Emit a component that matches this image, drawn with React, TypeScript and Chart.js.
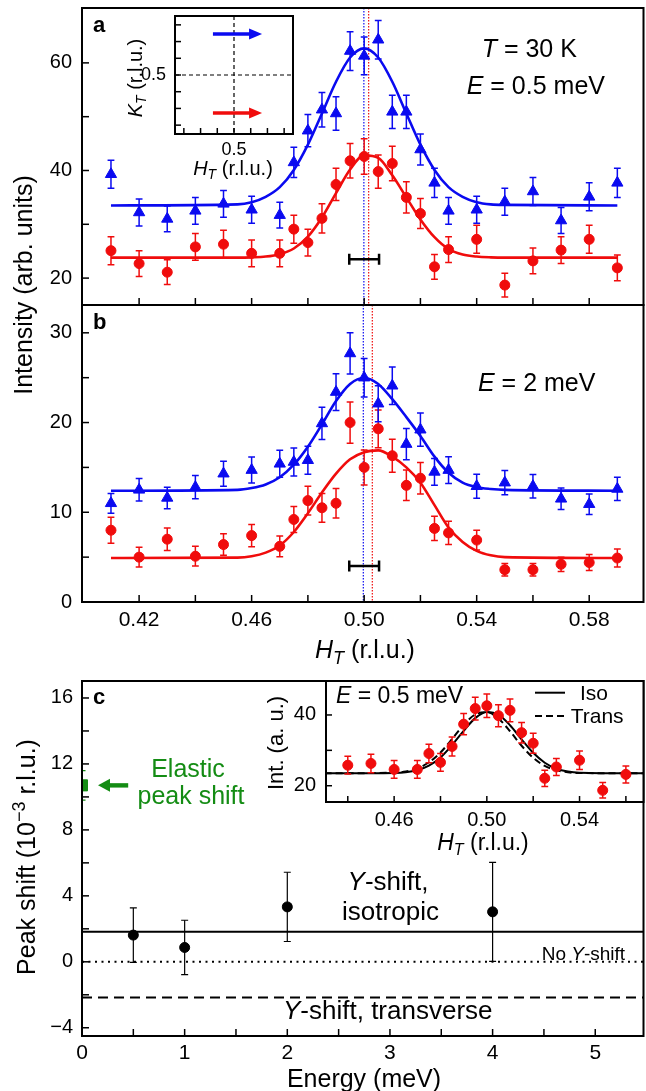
import React, { useEffect, useRef } from 'react';
import { Chart, registerables } from 'chart.js';

Chart.register(...registerables);

const W = 646;
const H = 1091;
const FONT = '"Liberation Sans", Arial, Helvetica, sans-serif';
const BLUE = 'rgb(10,10,240)';
const RED = 'rgb(240,12,12)';
const GREEN = 'rgb(20,140,20)';

// ---------- Panels a & b : H_T scan ----------
const hT = [0.41, 0.42, 0.43, 0.44, 0.45, 0.46, 0.47, 0.475, 0.48, 0.485, 0.49, 0.495, 0.5, 0.505, 0.51, 0.515, 0.52, 0.525, 0.53, 0.54, 0.55, 0.56, 0.57, 0.58, 0.59];
const blueA = [39.3, 32.2, 31.0, 32.5, 33.8, 32.7, 31.7, 41.5, 47.4, 51.3, 50.6, 62.2, 61.3, 64.3, 50.9, 50.9, 43.9, 37.7, 32.5, 32.7, 34.2, 36.1, 30.7, 35.1, 37.7];
const blueAErr = [2.6, 2.5, 2.4, 2.5, 2.5, 2.5, 2.4, 2.8, 3.0, 3.2, 3.1, 3.6, 3.5, 3.6, 3.1, 3.1, 2.9, 2.7, 2.5, 2.5, 2.5, 2.6, 2.4, 2.6, 2.7];
const redA = [25.1, 22.7, 21.1, 25.8, 26.3, 24.6, 24.6, 29.1, 26.6, 31.1, 37.4, 41.8, 42.6, 39.8, 41.3, 35.0, 32.0, 22.1, 25.3, 27.2, 18.7, 23.2, 25.2, 27.2, 21.9];
const redAErr = [2.6, 2.4, 2.3, 2.5, 2.6, 2.5, 2.5, 2.6, 2.5, 2.7, 3.0, 3.2, 3.3, 3.1, 3.2, 2.9, 2.8, 2.3, 2.4, 2.6, 2.2, 2.4, 2.5, 2.6, 2.4];
const blueB = [11.0, 12.5, 11.6, 12.8, 14.3, 14.7, 15.4, 15.6, 15.8, 19.9, 23.4, 27.7, 25.0, 22.1, 24.1, 17.6, 19.2, 14.5, 14.7, 12.9, 13.3, 12.9, 11.5, 10.9, 12.6];
const blueBErr = [1.1, 1.25, 1.2, 1.3, 1.4, 1.45, 1.5, 1.55, 1.55, 1.8, 2.05, 2.3, 2.15, 2.0, 2.1, 1.75, 1.85, 1.5, 1.5, 1.35, 1.35, 1.3, 1.2, 1.15, 1.3];
const redB = [8.0, 5.0, 7.0, 5.1, 6.4, 7.4, 6.2, 9.2, 11.3, 10.5, 11.0, 20.0, 15.0, 19.3, 16.3, 13.0, 13.8, 8.2, 7.7, 6.9, 3.6, 3.6, 4.2, 4.4, 4.9];
const redBErr = [1.45, 1.1, 1.25, 1.1, 1.2, 1.25, 1.15, 1.45, 1.6, 1.6, 1.65, 2.3, 1.95, 2.1, 1.85, 1.7, 1.75, 1.35, 1.3, 1.1, 0.7, 0.7, 0.8, 0.9, 1.0];

// fitted curves
const fitH = [0.41, 0.455, 0.46, 0.465, 0.47, 0.475, 0.48, 0.485, 0.49, 0.495, 0.5, 0.505, 0.51, 0.515, 0.52, 0.525, 0.53, 0.535, 0.54, 0.545, 0.55, 0.59];
const blueAFit = [33.5, 33.7, 34.1, 35.1, 36.9, 40.1, 44.8, 50.6, 56.5, 61.0, 62.7, 61.0, 56.5, 50.6, 44.8, 40.1, 36.9, 35.1, 34.1, 33.7, 33.6, 33.5];
const redAFit = [23.8, 23.8, 23.85, 24.0, 24.45, 25.5, 27.7, 31.25, 35.8, 40.2, 42.8, 42.35, 39.1, 35.0, 30.9, 27.6, 25.4, 24.4, 24.0, 23.85, 23.8, 23.8];
const blueBFit = [12.4, 12.5, 12.7, 13.1, 13.9, 15.3, 17.3, 19.8, 22.4, 24.3, 25.0, 24.3, 22.6, 20.6, 18.5, 16.2, 14.4, 13.3, 12.8, 12.6, 12.5, 12.4];
const redBFit = [4.9, 4.95, 5.1, 5.5, 6.3, 7.8, 9.9, 12.2, 14.3, 15.9, 16.7, 16.9, 16.2, 15.0, 13.3, 10.8, 8.3, 6.7, 5.7, 5.2, 5.0, 4.9];

// peak centres (dotted lines) and resolution bar
const centersA = [0.4999, 0.5016];
const centersB = [0.4997, 0.5029];
const resolutionH = [0.4947, 0.5053];
const resolutionYA = 23.5;
const resolutionYB = 4.0;

// inset of panel a (scan geometry)
const arrowH = [0.4874, 0.5168];
const arrowKBlue = 0.5245;
const arrowKRed = 0.4772;

// ---------- Panel c ----------
const energies = [0.5, 1, 2, 4];
const peakShift = [1.62, 0.87, 3.33, 3.03];
const peakShiftErr = [1.65, 1.65, 2.1, 3.0];
const elasticE = [0];
const elasticShift = [10.7];
const elasticErr = [0.9];
const elasticArrowE = [0.156, 0.45];
const isoShift = 1.82;
const noShift = 0;
const transShift = -2.16;
const lineE = [0, 5.5];

// inset of panel c
const insetH = hT.slice(3, 22);
const insetI = redA.slice(3, 22);
const insetErr = redAErr.slice(3, 22);
const insetFitH = [0.43, 0.46, 0.465, 0.47, 0.475, 0.48, 0.485, 0.49, 0.495, 0.5, 0.505, 0.51, 0.515, 0.52, 0.525, 0.53, 0.535, 0.54, 0.57];
const isoFit = [23.5, 23.6, 23.8, 24.4, 25.7, 28.0, 31.5, 35.5, 39.1, 40.85, 40.1, 37.1, 33.1, 29.3, 26.5, 24.8, 24.0, 23.7, 23.5];
const transFit = [23.5, 23.7, 24.0, 24.9, 26.6, 29.4, 33.2, 37.2, 40.15, 40.8, 39.0, 35.4, 31.3, 27.9, 25.6, 24.4, 23.8, 23.6, 23.5];

// ---------- helpers ----------
type Part = { t: string; i?: boolean; b?: boolean; sub?: boolean; sup?: boolean };
const fontOf = (p: Part, size: number) =>
  `${p.i ? 'italic ' : ''}${p.b ? 'bold ' : ''}${p.sub || p.sup ? Math.round(size * 0.7) : size}px ${FONT}`;

function richText(
  ctx: CanvasRenderingContext2D,
  parts: Part[],
  x: number,
  y: number,
  size: number,
  opts: { align?: 'left' | 'center'; color?: string; rotate?: boolean } = {}
) {
  ctx.save();
  ctx.fillStyle = opts.color || '#000';
  ctx.textBaseline = 'alphabetic';
  ctx.textAlign = 'left';
  let w = 0;
  for (const p of parts) {
    ctx.font = fontOf(p, size);
    w += ctx.measureText(p.t).width;
  }
  ctx.translate(x, y);
  if (opts.rotate) ctx.rotate(-Math.PI / 2);
  let cx = opts.align === 'center' ? -w / 2 : 0;
  for (const p of parts) {
    ctx.font = fontOf(p, size);
    const dy = p.sub ? size * 0.22 : p.sup ? -size * 0.4 : 0;
    ctx.fillText(p.t, cx, dy);
    cx += ctx.measureText(p.t).width;
  }
  ctx.restore();
}

const HT: Part[] = [{ t: 'H', i: true }, { t: 'T', i: true, sub: true }, { t: ' (r.l.u.)' }];
const KT: Part[] = [{ t: 'K', i: true }, { t: 'T', i: true, sub: true }, { t: ' (r.l.u.)' }];

const pts = (xs: number[], ys: number[]) => xs.map((x, i) => ({ x, y: ys[i] }));

function pointsDs(xs: number[], ys: number[], errs: number[], color: string, style: string, r: number, errW = 1.5, capW = 3.4) {
  return {
    data: pts(xs, ys),
    showLine: false,
    pointStyle: style,
    pointRadius: r,
    backgroundColor: color,
    borderColor: color,
    borderWidth: 1,
    errs,
    errColor: color,
    errW,
    capW,
    clip: 0,
  };
}

function curveDs(xs: number[], ys: number[], color: string, width: number, dash: number[] = []) {
  return {
    data: pts(xs, ys),
    showLine: true,
    pointRadius: 0,
    borderColor: color,
    backgroundColor: color,
    borderWidth: width,
    borderDash: dash,
    cubicInterpolationMode: 'monotone',
    fill: false,
    clip: 0,
  };
}

type Area = { l: number; t: number; r: number; b: number };
type AxisSpec = { min: number; max: number; step: number; label: (v: number) => string; font: number; pad: number };
type Spec = {
  area: Area;
  x: AxisSpec;
  y: AxisSpec;
  datasets: any[];
  tickLen: number;
  whiteBg?: boolean;
  under?: (ctx: CanvasRenderingContext2D, chart: any) => void;
  over?: (ctx: CanvasRenderingContext2D, chart: any) => void;
};

function line(ctx: CanvasRenderingContext2D, x1: number, y1: number, x2: number, y2: number) {
  ctx.beginPath();
  ctx.moveTo(x1, y1);
  ctx.lineTo(x2, y2);
  ctx.stroke();
}

function buildConfig(spec: Spec): any {
  const { area } = spec;
  const axis = (a: AxisSpec, isX: boolean) => ({
    type: 'linear',
    position: isX ? 'bottom' : 'left',
    min: a.min,
    max: a.max,
    grid: { display: false, drawTicks: false },
    border: { display: false },
    ticks: {
      stepSize: a.step,
      includeBounds: false,
      autoSkip: false,
      maxRotation: 0,
      minRotation: 0,
      padding: a.pad,
      color: '#000',
      font: { family: FONT, size: a.font },
      callback: (v: number) => a.label(v),
    },
    afterFit: (s: any) => {
      if (isX) s.height = H - area.b;
      else s.width = area.l;
      s.paddingTop = 0;
      s.paddingBottom = 0;
      s.paddingLeft = 0;
      s.paddingRight = 0;
    },
  });
  const plugin = {
    id: 'panelDeco',
    beforeDraw(chart: any) {
      if (!spec.whiteBg) return;
      const { ctx, chartArea: a } = chart;
      ctx.save();
      ctx.fillStyle = '#fff';
      ctx.fillRect(a.left, a.top, a.right - a.left, a.bottom - a.top);
      ctx.restore();
    },
    beforeDatasetsDraw(chart: any) {
      if (spec.under) {
        const { ctx, chartArea: a } = chart;
        ctx.save();
        ctx.beginPath();
        ctx.rect(a.left, a.top, a.right - a.left, a.bottom - a.top);
        ctx.clip();
        spec.under(ctx, chart);
        ctx.restore();
      }
    },
    beforeDatasetDraw(chart: any, args: any) {
      const ds = chart.data.datasets[args.index];
      if (!ds.errs) return;
      const { ctx, chartArea: a } = chart;
      const xs = chart.scales.x;
      const ys = chart.scales.y;
      ctx.save();
      ctx.beginPath();
      ctx.rect(a.left, a.top, a.right - a.left, a.bottom - a.top);
      ctx.clip();
      ctx.strokeStyle = ds.errColor;
      ctx.lineWidth = ds.errW;
      ds.data.forEach((p: any, i: number) => {
        const e = ds.errs[i];
        const px = xs.getPixelForValue(p.x);
        const y1 = ys.getPixelForValue(p.y + e);
        const y2 = ys.getPixelForValue(p.y - e);
        line(ctx, px, y1, px, y2);
        line(ctx, px - ds.capW, y1, px + ds.capW, y1);
        line(ctx, px - ds.capW, y2, px + ds.capW, y2);
      });
      ctx.restore();
    },
    afterDraw(chart: any) {
      const { ctx, chartArea: a } = chart;
      const xs = chart.scales.x;
      const ys = chart.scales.y;
      ctx.save();
      ctx.strokeStyle = '#000';
      ctx.lineWidth = 1.5;
      xs.ticks.forEach((t: any) => {
        const px = xs.getPixelForValue(t.value);
        if (px < a.left + 2 || px > a.right - 2) return;
        line(ctx, px, a.bottom, px, a.bottom - spec.tickLen);
      });
      ys.ticks.forEach((t: any) => {
        const py = ys.getPixelForValue(t.value);
        if (py < a.top + 2 || py > a.bottom - 2) return;
        line(ctx, a.left, py, a.left + spec.tickLen, py);
      });
      ctx.lineWidth = 2;
      ctx.strokeRect(a.left, a.top, a.right - a.left, a.bottom - a.top);
      ctx.restore();
      if (spec.over) {
        ctx.save();
        spec.over(ctx, chart);
        ctx.restore();
      }
    },
  };
  return {
    type: 'scatter',
    data: { datasets: spec.datasets },
    options: {
      animation: false,
      responsive: false,
      maintainAspectRatio: false,
      events: [],
      layout: { autoPadding: false, padding: { top: area.t, right: W - area.r, left: 0, bottom: 0 } },
      plugins: { legend: { display: false }, tooltip: { enabled: false }, title: { display: false } },
      scales: { x: axis(spec.x, true), y: axis(spec.y, false) },
    },
    plugins: [plugin],
  };
}

function drawCentersAndRes(ctx: CanvasRenderingContext2D, chart: any, centers: number[], resY: number) {
  const xs = chart.scales.x;
  const ys = chart.scales.y;
  const a = chart.chartArea;
  ctx.lineWidth = 1.2;
  ctx.setLineDash([1.5, 1.5]);
  [BLUE, RED].forEach((c, i) => {
    ctx.strokeStyle = c;
    const px = xs.getPixelForValue(centers[i]);
    line(ctx, px, a.top, px, a.bottom);
  });
  ctx.setLineDash([]);
  ctx.strokeStyle = '#000';
  ctx.lineWidth = 2.5;
  const x1 = xs.getPixelForValue(resolutionH[0]);
  const x2 = xs.getPixelForValue(resolutionH[1]);
  const y = ys.getPixelForValue(resY);
  line(ctx, x1, y, x2, y);
  line(ctx, x1, y - 5.5, x1, y + 5.5);
  line(ctx, x2, y - 5.5, x2, y + 5.5);
}

const xLab = (v: number) => {
  const k = Math.round(v * 100);
  return k === 42 || k === 46 || k === 50 || k === 54 || k === 58 ? (k / 100).toFixed(2) : '';
};

function makeSpecs(): Spec[] {
  const axisX = { min: 0.3997, max: 0.5993, step: 0.02, font: 21, pad: 6 };
  const specA: Spec = {
    area: { l: 82, t: 8, r: 643.5, b: 305 },
    x: { ...axisX, label: () => '' },
    y: { min: 15, max: 70.2, step: 10, font: 20, pad: 10, label: (v) => (Math.round(v) % 20 === 0 ? String(Math.round(v)) : '') },
    tickLen: 7,
    datasets: [
      pointsDs(hT, blueA, blueAErr, BLUE, 'triangle', 6.5),
      pointsDs(hT, redA, redAErr, RED, 'circle', 5),
      curveDs(fitH, blueAFit, BLUE, 2.6),
      curveDs(fitH, redAFit, RED, 2.6),
    ],
    under: (ctx, chart) => drawCentersAndRes(ctx, chart, centersA, resolutionYA),
    over: (ctx) => {
      richText(ctx, [{ t: 'a', b: true }], 93, 32, 22);
      richText(ctx, [{ t: 'T', i: true }, { t: ' = 30 K' }], 481.7, 57, 25);
      richText(ctx, [{ t: 'E', i: true }, { t: ' = 0.5 meV' }], 466.7, 94, 25);
      richText(ctx, [{ t: 'Intensity (arb. units)' }], 32, 285, 25, { align: 'center', rotate: true });
    },
  };
  const specB: Spec = {
    area: { l: 82, t: 305, r: 643.5, b: 602 },
    x: { ...axisX, label: xLab },
    y: { min: 0, max: 33.1, step: 5, font: 20, pad: 10, label: (v) => (Math.round(v) % 10 === 0 ? String(Math.round(v)) : '') },
    tickLen: 7,
    datasets: [
      pointsDs(hT, blueB, blueBErr, BLUE, 'triangle', 6.5),
      pointsDs(hT, redB, redBErr, RED, 'circle', 5),
      curveDs(fitH, blueBFit, BLUE, 2.6),
      curveDs(fitH, redBFit, RED, 2.6),
    ],
    under: (ctx, chart) => drawCentersAndRes(ctx, chart, centersB, resolutionYB),
    over: (ctx) => {
      richText(ctx, [{ t: 'b', b: true }], 93, 329, 22);
      richText(ctx, [{ t: 'E', i: true }, { t: ' = 2 meV' }], 478, 391, 25);
      richText(ctx, HT, 365, 658, 25, { align: 'center' });
    },
  };
  const specC: Spec = {
    area: { l: 82, t: 681, r: 643.5, b: 1036 },
    x: { min: 0, max: 5.47, step: 0.5, font: 21, pad: 5, label: (v) => (Math.abs(v - Math.round(v)) < 1e-6 ? String(Math.round(v)) : '') },
    y: {
      min: -4.5,
      max: 17.03,
      step: 2,
      font: 20,
      pad: 9,
      label: (v) => {
        const k = Math.round(v);
        if (k % 4 !== 0) return '';
        return k < 0 ? '\u2212' + Math.abs(k) : String(k);
      },
    },
    tickLen: 7,
    datasets: [
      pointsDs(energies, peakShift, peakShiftErr, '#000', 'circle', 5, 1.2, 3.5),
      pointsDs(elasticE, elasticShift, elasticErr, GREEN, 'rect', 7.8, 1.2, 3.5),
      curveDs(lineE, [isoShift, isoShift], '#000', 2),
      curveDs(lineE, [noShift, noShift], '#000', 2, [2, 4.5]),
      curveDs(lineE, [transShift, transShift], '#000', 2, [10, 6]),
    ],
    over: (ctx, chart) => {
      const xs = chart.scales.x;
      const ys = chart.scales.y;
      const y = ys.getPixelForValue(elasticShift[0]);
      const tip = xs.getPixelForValue(elasticArrowE[0]);
      const tail = xs.getPixelForValue(elasticArrowE[1]);
      ctx.fillStyle = GREEN;
      ctx.fillRect(tip + 10, y - 2.2, tail - tip - 10, 4.4);
      ctx.beginPath();
      ctx.moveTo(tip, y);
      ctx.lineTo(tip + 12, y - 6.5);
      ctx.lineTo(tip + 12, y + 6.5);
      ctx.closePath();
      ctx.fill();
      richText(ctx, [{ t: 'c', b: true }], 93, 704, 22);
      richText(ctx, [{ t: 'Elastic' }], 188, 777, 25, { align: 'center', color: GREEN });
      richText(ctx, [{ t: 'peak shift' }], 191, 804, 25, { align: 'center', color: GREEN });
      richText(ctx, [{ t: 'Y', i: true }, { t: '-shift,' }], 388, 890, 26, { align: 'center' });
      richText(ctx, [{ t: 'isotropic' }], 390.5, 920, 26, { align: 'center' });
      richText(ctx, [{ t: 'No ' }, { t: 'Y', i: true }, { t: '-shift' }], 541.7, 960, 19);
      richText(ctx, [{ t: 'Y', i: true }, { t: '-shift, transverse' }], 283, 1019, 26);
      richText(ctx, [{ t: 'Peak shift (10' }, { t: '\u22123', sup: true }, { t: ' r.l.u.)' }], 35, 857, 25, { align: 'center', rotate: true });
      richText(ctx, [{ t: 'Energy (meV)' }], 364, 1087, 25, { align: 'center' });
    },
  };
  const specInsetA: Spec = {
    area: { l: 175, t: 16, r: 293, b: 134 },
    x: { min: 0.4647, max: 0.5353, step: 0.01, font: 18, pad: 5, label: (v) => (Math.abs(v - 0.5) < 1e-6 ? '0.5' : '') },
    y: { min: 0.4647, max: 0.5353, step: 0.01, font: 18, pad: 9, label: (v) => (Math.abs(v - 0.5) < 1e-6 ? '0.5' : '') },
    tickLen: 6,
    whiteBg: true,
    datasets: [],
    under: (ctx, chart) => {
      const xs = chart.scales.x;
      const ys = chart.scales.y;
      const a = chart.chartArea;
      ctx.strokeStyle = '#000';
      ctx.lineWidth = 1.2;
      ctx.setLineDash([4, 3]);
      const px = xs.getPixelForValue(0.5);
      const py = ys.getPixelForValue(0.5);
      line(ctx, px, a.top, px, a.bottom);
      line(ctx, a.left, py, a.right, py);
      ctx.setLineDash([]);
    },
    over: (ctx, chart) => {
      const xs = chart.scales.x;
      const ys = chart.scales.y;
      const x1 = xs.getPixelForValue(arrowH[0]);
      const x2 = xs.getPixelForValue(arrowH[1]);
      [
        [arrowKBlue, BLUE],
        [arrowKRed, RED],
      ].forEach(([k, c]) => {
        const y = ys.getPixelForValue(k as number);
        ctx.strokeStyle = c as string;
        ctx.fillStyle = c as string;
        ctx.lineWidth = 3.5;
        line(ctx, x1, y, x2 - 10, y);
        ctx.beginPath();
        ctx.moveTo(x2, y);
        ctx.lineTo(x2 - 13, y - 5.5);
        ctx.lineTo(x2 - 13, y + 5.5);
        ctx.closePath();
        ctx.fill();
      });
      richText(ctx, KT, 142, 78, 20, { align: 'center', rotate: true });
      richText(ctx, HT, 233, 175, 20, { align: 'center' });
    },
  };
  const specInsetC: Spec = {
    area: { l: 326, t: 681, r: 643.5, b: 802 },
    x: {
      min: 0.4306,
      max: 0.5676,
      step: 0.02,
      font: 20,
      pad: 6,
      label: (v) => {
        const k = Math.round(v * 100);
        return k === 46 || k === 50 || k === 54 ? (k / 100).toFixed(2) : '';
      },
    },
    y: { min: 15.4, max: 49.6, step: 10, font: 20, pad: 10, label: (v) => (Math.round(v) % 20 === 0 ? String(Math.round(v)) : '') },
    tickLen: 6,
    whiteBg: true,
    datasets: [
      pointsDs(insetH, insetI, insetErr, RED, 'circle', 5),
      curveDs(insetFitH, isoFit, '#000', 2),
      curveDs(insetFitH, transFit, '#000', 2, [7, 4]),
    ],
    over: (ctx) => {
      richText(ctx, [{ t: 'E', i: true }, { t: ' = 0.5 meV' }], 336, 703, 23);
      ctx.strokeStyle = '#000';
      ctx.lineWidth = 2;
      line(ctx, 535, 692.7, 565, 692.7);
      ctx.setLineDash([7, 4]);
      line(ctx, 535, 716, 566, 716);
      ctx.setLineDash([]);
      richText(ctx, [{ t: 'Iso' }], 580, 699.5, 21);
      richText(ctx, [{ t: 'Trans' }], 570.7, 723, 21);
      richText(ctx, [{ t: 'Int. (a. u.)' }], 283, 743, 22, { align: 'center', rotate: true });
      richText(ctx, HT, 483, 850, 23, { align: 'center' });
    },
  };
  return [specA, specB, specC, specInsetA, specInsetC];
}

export default function App() {
  const refs = useRef<(HTMLCanvasElement | null)[]>([]);
  useEffect(() => {
    document.body.style.margin = '0';
    const specs = makeSpecs();
    const charts = specs.map((s, i) => new Chart(refs.current[i] as HTMLCanvasElement, buildConfig(s)));
    return () => charts.forEach((c) => c.destroy());
  }, []);
  return (
    <div style={{ position: 'relative', width: W, height: H, background: '#fff', overflow: 'hidden' }}>
      {[0, 1, 2, 3, 4].map((i) => (
        <canvas
          key={i}
          ref={(el) => {
            refs.current[i] = el;
          }}
          width={W}
          height={H}
          style={{ position: 'absolute', left: 0, top: 0, width: W, height: H }}
        />
      ))}
    </div>
  );
}
